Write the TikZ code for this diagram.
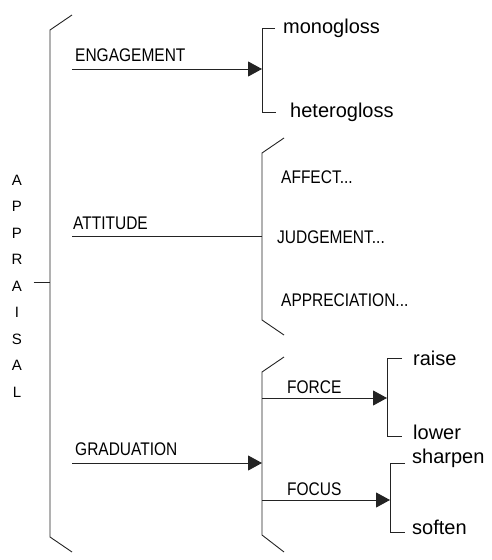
\documentclass[tikz,border=0pt]{standalone}
\usepackage{fontspec}
\setmainfont{Liberation Sans}
\usepackage{graphicx}
\usepackage{tikz}
\usetikzlibrary{arrows.meta, positioning}
\definecolor{inkgray}{RGB}{35,35,35}
\newcommand{\capt}[1]{\scalebox{1}[1.18]{#1}}

\begin{document}
\begin{tikzpicture}[
  x=1pt, y=-1pt,
  brk/.style={draw=inkgray, line width=0.9pt},
  arr/.style={-{Triangle[length=14pt, width=15pt]}, line width=0.9pt, inkgray},
  feat/.style={inner sep=0pt, anchor=base west, font=\fontsize{15.5}{18}\selectfont},
  term/.style={inner sep=0pt, anchor=west, font=\fontsize{20}{24}\selectfont},
]
\useasboundingbox (0,0) rectangle (491,560);

% system name and main bracket
\node[inner xsep=11pt, inner ysep=0pt, align=center,
      font=\fontsize{15}{26.5}\selectfont] (appr) at (17,286)
      {A\\P\\P\\R\\A\\I\\S\\A\\L};
\coordinate (root) at (50,282);
\draw[brk] (72,15) -- (50,30) -- (50,537) -- (72,552);
\draw[brk] (appr.east |- root) -- (root);

% engagement
\node[feat] (eng) at (75,61.5) {\capt{ENGAGEMENT}};
\coordinate (eng-s) at (72,69);
\coordinate (eng-b) at (262,69);
\draw[brk] (275,28) -- (262,28) -- (262,112) -- (276,112);
\node[term] (mono) at (283,28) {monogloss};
\node[term] (hetero) at (290,112) {heterogloss};
\draw[arr] (eng-s) -- (eng-b);

% attitude
\node[feat] (att) at (73,229.5) {\capt{ATTITUDE}};
\coordinate (att-s) at (72,236);
\coordinate (att-b) at (262,236);
\draw[brk] (284,138) -- (262,153) -- (262,320) -- (284,335);
\node[feat] (affect) at (281,183) {\capt{AFFECT...}};
\node[feat] (judge) at (277,243) {\capt{JUDGEMENT...}};
\node[feat] (apprec) at (281,306) {\capt{APPRECIATION...}};
\draw[brk] (att-s) -- (att-b);

% graduation
\node[feat] (grad) at (75,455) {\capt{GRADUATION}};
\coordinate (grad-s) at (72,463);
\coordinate (grad-b) at (262,463);
\draw[brk] (284,357) -- (262,372) -- (262,535) -- (284,552);
\draw[arr] (grad-s) -- (grad-b);

% force and focus
\node[feat] (force) at (287,393) {\capt{FORCE}};
\coordinate (force-s) at (262,398);
\coordinate (force-b) at (387,398);
\draw[brk] (402,358) -- (387,358) -- (387,436) -- (402,436);
\node[term] (raise) at (413,358) {raise};
\node[term] (lower) at (413,432) {lower};
\draw[arr] (force-s) -- (force-b);

\node[feat] (focus) at (287,495) {\capt{FOCUS}};
\coordinate (focus-s) at (262,500);
\coordinate (focus-b) at (390,500);
\draw[brk] (405,463) -- (390,463) -- (390,532) -- (405,532);
\node[term] (sharpen) at (412,458) {sharpen};
\node[term] (soften) at (412,527) {soften};
\draw[arr] (focus-s) -- (focus-b);

\end{tikzpicture}
\end{document}
